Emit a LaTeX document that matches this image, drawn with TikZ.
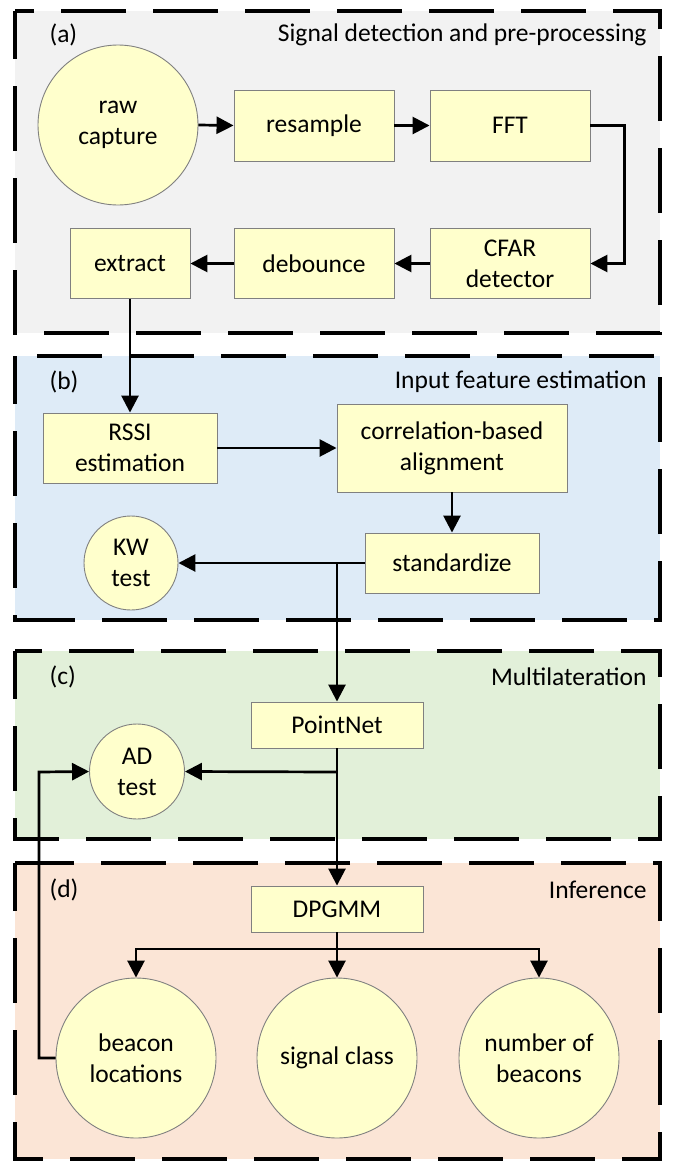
\documentclass[tikz,border=0pt]{standalone}
\usepackage{fontspec}
\setmainfont{Carlito}
\usetikzlibrary{arrows.meta}

\definecolor{bgA}{HTML}{F2F2F2}
\definecolor{bgB}{HTML}{DEEBF7}
\definecolor{bgC}{HTML}{E2F0D9}
\definecolor{bgD}{HTML}{FBE5D6}
\definecolor{nodefill}{HTML}{FFFFCC}
\definecolor{nodeline}{HTML}{808080}

\tikzset{
  panel/.style={line width=4pt, dash pattern=on 65pt off 27pt, dash phase=17pt},
  txt/.style={font=\fontsize{25.5}{31}\selectfont},
  box/.style={txt, rectangle, draw=nodeline, fill=nodefill, line width=0.9pt,
              align=center, inner sep=0pt},
  disc/.style={txt, circle, draw=nodeline, fill=nodefill, line width=0.9pt,
               align=center, inner sep=0pt},
  flow/.style={line width=2.7pt, -{Triangle[length=17pt,width=17pt]}},
}

\begin{document}
\begin{tikzpicture}[x=1pt,y=-1pt]
\useasboundingbox (0,0) rectangle (676,1162);

% panel backgrounds and dashed frames
\fill[bgA] (15,11) rectangle (660,333);
\fill[bgB] (15,356) rectangle (660,620);
\fill[bgC] (15,651) rectangle (660,839);
\fill[bgD] (15,863) rectangle (660,1159);
\draw[panel] (15,11) rectangle (660,333);
\draw[panel] (15,356) rectangle (660,620);
\draw[panel] (15,651) rectangle (660,839);
\draw[panel] (15,863) rectangle (660,1159);

% panel captions
\node[txt, anchor=west] (la) at (46,35) {(a)};
\node[txt, anchor=east] (ta) at (650,35) {Signal detection and pre-processing};
\node[txt, anchor=west] (lb) at (46,382) {(b)};
\node[txt, anchor=east] (tb) at (650,382) {Input feature estimation};
\node[txt, anchor=west] (lc) at (46,677) {(c)};
\node[txt, anchor=east] (tc) at (650,677) {Multilateration};
\node[txt, anchor=west] (ld) at (46,890) {(d)};
\node[txt, anchor=east] (td) at (650,890) {Inference};

% (a) detection chain
\node[disc, minimum size=160pt] (raw) at (118,125) {raw\\capture};
\node[box, minimum width=160pt, minimum height=71pt] (resample) at (314,125.5) {resample};
\node[box, minimum width=160pt, minimum height=71pt] (fft) at (510,125.5) {FFT};
\node[box, minimum width=160pt, minimum height=70pt] (cfar) at (510,263.5) {CFAR\\detector};
\node[box, minimum width=160pt, minimum height=70pt] (debounce) at (314,263.5) {debounce};
\node[box, minimum width=120pt, minimum height=70pt] (extract) at (130,263.5) {extract};

% (b) feature estimation
\node[box, minimum width=174pt, minimum height=70pt] (rssi) at (130,448) {RSSI\\estimation};
\node[box, minimum width=230pt, minimum height=88pt] (corr) at (452,448) {correlation-based\\alignment};
\node[box, minimum width=174pt, minimum height=60pt] (std) at (452,563) {standardize};
\node[disc, minimum size=94pt] (kw) at (131,563) {KW\\test};

% (c) multilateration
\node[box, minimum width=172pt, minimum height=46pt] (pointnet) at (337,725) {PointNet};
\node[disc, minimum size=95pt] (ad) at (137,771.5) {AD\\test};

% (d) inference
\node[box, minimum width=172pt, minimum height=46pt] (dpgmm) at (337,909) {DPGMM};
\node[disc, minimum size=160pt] (loc) at (136,1058) {beacon\\locations};
\node[disc, minimum size=160pt] (cls) at (337,1058) {signal class};
\node[disc, minimum size=160pt] (num) at (539,1058) {number of\\beacons};

% junction points
\coordinate (jstd) at (337,563);
\coordinate (jpn) at (337,772);
\coordinate (jdp) at (337,949);
\coordinate (jloop) at (39,772);

% connectors
\draw[flow] (raw.east) -- (resample.west);
\draw[flow] (resample) -- (fft);
\draw[flow] (fft.east) -- ++(34,0) |- (cfar.east);
\draw[flow] (cfar) -- (debounce);
\draw[flow] (debounce) -- (extract);
\draw[flow] (extract.south) -- (rssi.north);
\draw[flow] (rssi) -- (corr);
\draw[flow] (corr) -- (std);
\draw[flow] (std.west) -- (kw.east);
\draw[flow] (jstd) -- (pointnet.north);
\draw[flow] (pointnet.south) -- (dpgmm.north);
\draw[flow] (jpn) -- (ad.east);
\draw[flow] (jdp) -| (loc.north);
\draw[flow] (dpgmm.south) -- (cls.north);
\draw[flow] (jdp) -| (num.north);
\draw[flow] (loc.west) -| (jloop) -- (ad.west);
\end{tikzpicture}
\end{document}
